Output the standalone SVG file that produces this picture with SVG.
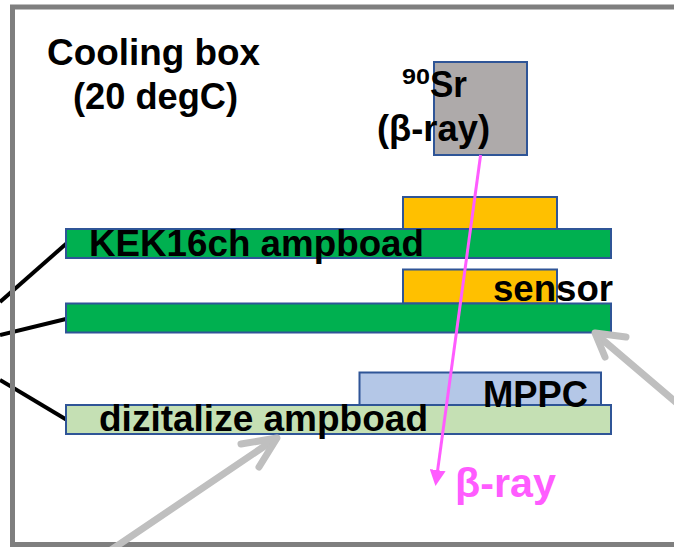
<svg xmlns="http://www.w3.org/2000/svg" width="674" height="547" viewBox="0 0 674 547">
<style>
text{font-family:"Liberation Sans",Arial,sans-serif;font-weight:bold;fill:#000;}
.lbl{font-size:37px;}
.box{stroke:#2F5597;stroke-width:2;}
.lead{stroke:#000;stroke-width:4;fill:none;}
.gray{stroke:#BFBFBF;stroke-width:7;fill:none;stroke-linecap:round;stroke-linejoin:round;}
</style>
<defs>
<marker id="pinkHead" markerWidth="16" markerHeight="16" refX="4" refY="8" orient="auto" markerUnits="userSpaceOnUse" viewBox="0 0 16 16">
<path d="M0,0 L16,8 L0,16 Z" fill="#FF5CFF"/>
</marker>
</defs>
<rect width="674" height="547" fill="#fff"/>

<g id="connectors">
<line class="lead" x1="0" y1="302" x2="67" y2="243"/>
<line class="lead" x1="0" y1="335" x2="70" y2="318"/>
<line class="lead" x1="0" y1="380" x2="67" y2="420"/>
</g>

<g id="cooling-box">
<rect x="12.5" y="7" width="680" height="537.5" fill="none" stroke="#7F7F7F" stroke-width="5"/>
<text class="lbl" x="47" y="65" textLength="213" lengthAdjust="spacingAndGlyphs">Cooling box</text>
<text class="lbl" x="73" y="108.5" textLength="165" lengthAdjust="spacingAndGlyphs">(20 degC)</text>
</g>

<g id="source">
<rect class="box" x="434" y="62" width="93" height="93" fill="#AEAAAA"/>
<text x="402" y="84" font-size="22" textLength="28" lengthAdjust="spacingAndGlyphs">90</text>
<text class="lbl" x="430" y="97" textLength="37" lengthAdjust="spacingAndGlyphs">Sr</text>
<text class="lbl" x="377" y="141" textLength="113" lengthAdjust="spacingAndGlyphs">(β-ray)</text>
</g>

<g id="sensor-top">
<rect class="box" x="403" y="197" width="154" height="33" fill="#FFC000"/>
</g>

<g id="kek-ampboard">
<rect class="box" x="66" y="229" width="545" height="29" fill="#00B050"/>
<text class="lbl" x="89" y="256" textLength="335" lengthAdjust="spacingAndGlyphs">KEK16ch ampboad</text>
</g>

<g id="sensor">
<rect class="box" x="403" y="269.5" width="154" height="34" fill="#FFC000"/>
</g>

<g id="ampboard-2">
<rect class="box" x="66" y="303.5" width="545" height="29" fill="#00B050"/>
</g>
<text class="lbl" x="493" y="300.5" textLength="120" lengthAdjust="spacingAndGlyphs">sensor</text>

<g id="mppc">
<rect class="box" x="359.5" y="372.5" width="241.5" height="32.5" fill="#B4C7E7"/>
</g>

<g id="digitalize-ampboard">
<rect class="box" x="66" y="405" width="545" height="29" fill="#C5E0B4"/>
<text class="lbl" x="99" y="431" textLength="329" lengthAdjust="spacingAndGlyphs">dizitalize ampboad</text>
</g>
<text class="lbl" x="483" y="407" textLength="105" lengthAdjust="spacingAndGlyphs">MPPC</text>

<g id="pointers">
<line class="gray" x1="108" y1="552" x2="275" y2="439"/>
<polyline class="gray" points="241,444 277,438 259,467"/>
<line class="gray" x1="692" y1="416" x2="597" y2="335"/>
<polyline class="gray" points="626,337 595,333 605,357"/>
</g>

<g id="beta-ray">
<line x1="480.6" y1="155" x2="437.1" y2="474.1" stroke="#FF5CFF" stroke-width="3" marker-end="url(#pinkHead)"/>
<text x="455" y="497" font-size="40" textLength="101" lengthAdjust="spacingAndGlyphs" style="fill:#FF5CFF">β-ray</text>
</g>
</svg>
